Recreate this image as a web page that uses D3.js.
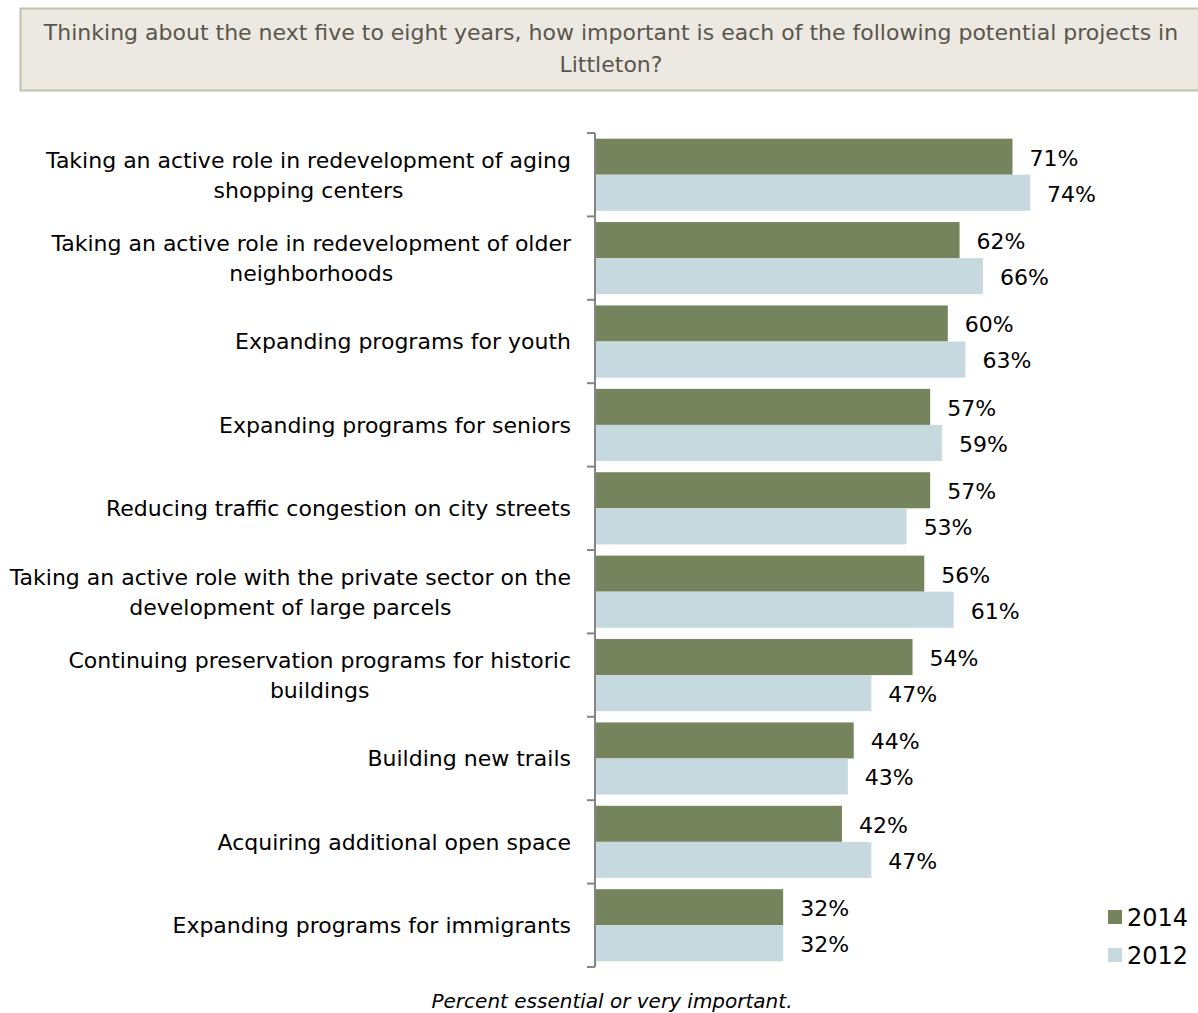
<!DOCTYPE html>
<html>
<head>
<meta charset="utf-8">
<script src="https://cdn.jsdelivr.net/npm/d3@7"></script>
<style>
  html, body { margin: 0; padding: 0; background: #ffffff; }
  svg { display: block; }
</style>
</head>
<body>
<svg id="chart" width="1198" height="1013"></svg>
<script>
// Survey items (each entry is a list of wrapped label lines)
const categories = [
  ["Taking an active role in redevelopment of aging", "shopping centers"],
  ["Taking an active role in redevelopment of older", "neighborhoods"],
  ["Expanding programs for youth"],
  ["Expanding programs for seniors"],
  ["Reducing traffic congestion on city streets"],
  ["Taking an active role with the private sector on the", "development of large parcels"],
  ["Continuing preservation programs for historic", "buildings"],
  ["Building new trails"],
  ["Acquiring additional open space"],
  ["Expanding programs for immigrants"]
];
const values2014 = [71, 62, 60, 57, 57, 56, 54, 44, 42, 32];
const values2012 = [74, 66, 63, 59, 53, 61, 47, 43, 47, 32];
const seriesNames = ["2014", "2012"];
const seriesColors = ["#76845E", "#C6D9DF"];
const titleLines = [
  "Thinking about the next five to eight years, how important is each of the following potential projects in",
  "Littleton?"
];
const footnote = "Percent essential or very important.";

const FONT = "'DejaVu Sans', Verdana, sans-serif";
const svg = d3.select("#chart");

// Title box
svg.append("rect")
  .attr("x", 20.5).attr("y", 8.5)
  .attr("width", 1190).attr("height", 82)
  .attr("fill", "#ECE9E2")
  .attr("stroke", "#C4BFAD").attr("stroke-width", 2);
svg.append("g").selectAll("text").data(titleLines).join("text")
  .attr("x", 611).attr("y", (d, i) => 40 + i * 32)
  .attr("text-anchor", "middle")
  .attr("font-family", FONT).attr("font-size", 22)
  .attr("fill", "#5A564C")
  .text(d => d);

// Scales
const plotTop = 133, plotBottom = 967, axisX = 595;
const idx = d3.range(categories.length);
const y = d3.scaleBand().domain(idx).range([plotTop, plotBottom]).paddingInner(0.135).paddingOuter(0.068);
const x = d3.scaleLinear().domain([0, 100]).range([axisX, axisX + 588]);
const ySub = d3.scaleBand().domain([0, 1]).range([0, y.bandwidth()]);

// Bars
const groups = svg.append("g").selectAll("g").data(idx).join("g")
  .attr("transform", i => `translate(0,${y(i)})`);

const seriesVals = [values2014, values2012];
groups.each(function(i) {
  const g = d3.select(this);
  [0, 1].forEach(s => {
    const v = seriesVals[s][i];
    g.append("rect")
      .attr("x", x(0) + 1)
      .attr("y", ySub(s))
      .attr("width", x(v) - x(0) - 1)
      .attr("height", ySub.bandwidth())
      .attr("fill", seriesColors[s]);
    g.append("text")
      .attr("x", x(v) + 17)
      .attr("y", ySub(s) + ySub.bandwidth() / 2 + 1)
      .attr("dy", "0.36em")
      .attr("font-family", FONT).attr("font-size", 22)
      .attr("fill", "#000")
      .text(v + "%");
  });
});

// Category axis: vertical line with outward ticks at band boundaries
const step = (plotBottom - plotTop) / categories.length;
const axisG = svg.append("g").attr("stroke", "#858585").attr("stroke-width", 2);
axisG.append("line")
  .attr("x1", axisX).attr("x2", axisX)
  .attr("y1", plotTop).attr("y2", plotBottom);
axisG.selectAll("line.tick").data(d3.range(categories.length + 1)).join("line")
  .attr("class", "tick")
  .attr("x1", axisX - 8).attr("x2", axisX)
  .attr("y1", k => plotTop + k * step).attr("y2", k => plotTop + k * step);

// Category labels (multi-line blocks centred on their longest line, right-aligned to the axis)
const labelRight = 571;
const labelG = svg.append("g");
categories.forEach((lines, i) => {
  const cy = y(i) + y.bandwidth() / 2;
  const t = labelG.append("text")
    .attr("font-family", FONT).attr("font-size", 22)
    .attr("fill", "#000");
  const lh = 30;
  const y0 = cy - (lines.length - 1) * lh / 2;
  lines.forEach((ln, k) => {
    t.append("tspan").attr("x", 0).attr("y", y0 + k * lh).attr("dy", "0.36em").text(ln);
  });
  const widths = [];
  t.selectAll("tspan").each(function() { widths.push(this.getComputedTextLength()); });
  const maxW = d3.max(widths);
  const center = labelRight - maxW / 2;
  t.selectAll("tspan").attr("x", center).attr("text-anchor", "middle");
});

// Legend
const legend = svg.append("g");
seriesNames.forEach((name, s) => {
  const ly = 917 + s * 38;
  legend.append("rect")
    .attr("x", 1108).attr("y", ly - 7).attr("width", 14).attr("height", 14)
    .attr("fill", seriesColors[s]);
  legend.append("text")
    .attr("x", 1127).attr("y", ly).attr("dy", "0.36em")
    .attr("font-family", FONT).attr("font-size", 24)
    .attr("fill", "#000")
    .text(name);
});

// Footnote
svg.append("text")
  .attr("x", 612).attr("y", 1008)
  .attr("text-anchor", "middle")
  .attr("font-family", FONT).attr("font-size", 20).attr("font-style", "italic")
  .attr("fill", "#000")
  .text(footnote);
</script>
</body>
</html>
